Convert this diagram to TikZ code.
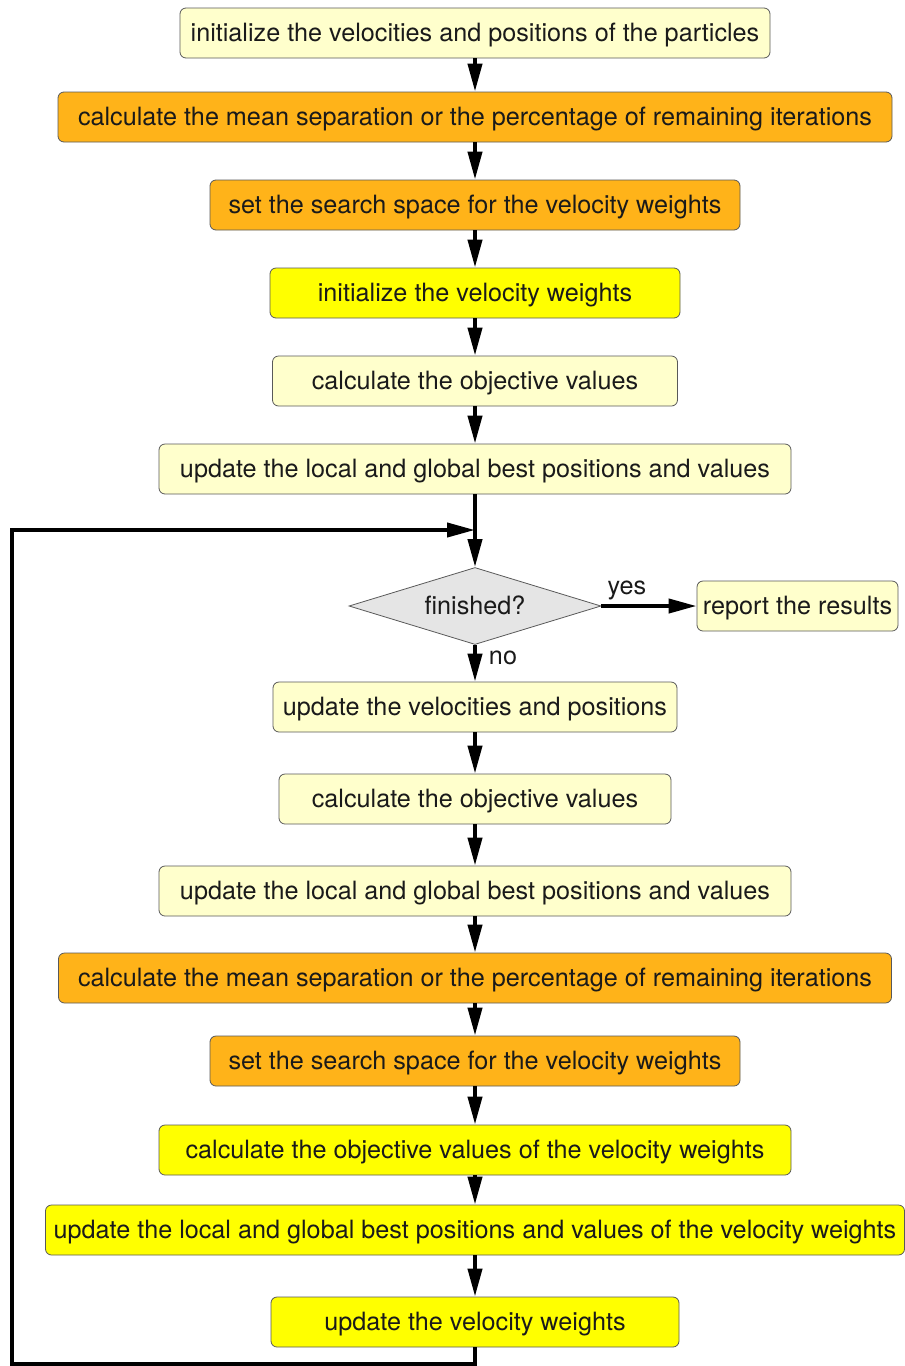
\documentclass[tikz,border=0pt]{standalone}
\usepackage{fontspec}
\setmainfont{TeX Gyre Heros}
\usetikzlibrary{arrows.meta,shapes.geometric}
\definecolor{paleyel}{HTML}{FFFFCC}
\definecolor{ornge}{HTML}{FFB319}
\definecolor{yel}{HTML}{FFFF00}
\definecolor{diagray}{HTML}{E5E5E5}
\definecolor{txt}{HTML}{1A1A1A}

\begin{document}
\begin{tikzpicture}[x=0.5pt,y=-0.5pt,
  box/.style={draw=black!65,rounded corners=3pt,minimum height=25pt,inner sep=1pt,
    text depth=1pt,text=txt,font=\fontsize{12.6}{14}\selectfont},
  flow/.style={line width=2pt,-{Triangle[length=14pt,width=7pt]}}]
  \useasboundingbox (0,0) rectangle (905,1366);

  % set-up
  \node[box,fill=paleyel,minimum width=295pt] (init) at (475,33) {initialize the velocities and positions of the particles};
  \node[box,fill=ornge,minimum width=417pt] (sep1) at (475,117) {calculate the mean separation or the percentage of remaining iterations};
  \node[box,fill=ornge,minimum width=265pt] (space1) at (475,205) {set the search space for the velocity weights};
  \node[box,fill=yel,minimum width=205pt] (winit) at (475,293) {initialize the velocity weights};
  \node[box,fill=paleyel,minimum width=202.5pt] (obj1) at (475,381) {calculate the objective values};
  \node[box,fill=paleyel,minimum width=316pt] (best1) at (475,469) {update the local and global best positions and values};

  % test
  \coordinate (join) at (475,530);
  \node[diamond,aspect=3.27,draw=black!65,fill=diagray,minimum width=126pt,minimum height=38.5pt,inner sep=0pt,
    text depth=1pt,text=txt,font=\fontsize{12.6}{14}\selectfont] (fin) at (475,606) {finished?};
  \node[box,fill=paleyel,minimum width=100.5pt] (report) at (797.5,606) {report the results};
  \node[text=txt,font=\fontsize{12.6}{14}\selectfont] (yes) at (627,590) {yes};
  \node[text=txt,font=\fontsize{12.6}{14}\selectfont] (no) at (503,658) {no};

  % main loop
  \node[box,fill=paleyel,minimum width=202pt] (move) at (475,707) {update the velocities and positions};
  \node[box,fill=paleyel,minimum width=196pt] (obj2) at (475,799) {calculate the objective values};
  \node[box,fill=paleyel,minimum width=316pt] (best2) at (475,891) {update the local and global best positions and values};
  \node[box,fill=ornge,minimum width=416.5pt] (sep2) at (475,978) {calculate the mean separation or the percentage of remaining iterations};
  \node[box,fill=ornge,minimum width=265pt] (space2) at (475,1061) {set the search space for the velocity weights};
  \node[box,fill=yel,minimum width=316pt] (wobj) at (475,1150) {calculate the objective values of the velocity weights};
  \node[box,fill=yel,minimum width=429.5pt] (wbest) at (475,1230) {update the local and global best positions and values of the velocity weights};
  \node[box,fill=yel,minimum width=204pt] (wupd) at (475,1322) {update the velocity weights};
  \coordinate (low) at (12,1364);

  \draw[flow] (init) -- (sep1);
  \draw[flow] (sep1) -- (space1);
  \draw[flow] (space1) -- (winit);
  \draw[flow] (winit) -- (obj1);
  \draw[flow] (obj1) -- (best1);
  \draw[flow] (best1) -- (fin);
  \draw[flow] (fin) -- (report);
  \draw[flow] (fin) -- (move);
  \draw[flow] (move) -- (obj2);
  \draw[flow] (obj2) -- (best2);
  \draw[flow] (best2) -- (sep2);
  \draw[flow] (sep2) -- (space2);
  \draw[flow] (space2) -- (wobj);
  \draw[flow] (wobj) -- (wbest);
  \draw[flow] (wbest) -- (wupd);
  \draw[flow] (wupd.south) |- (low) |- (join);
\end{tikzpicture}
\end{document}
